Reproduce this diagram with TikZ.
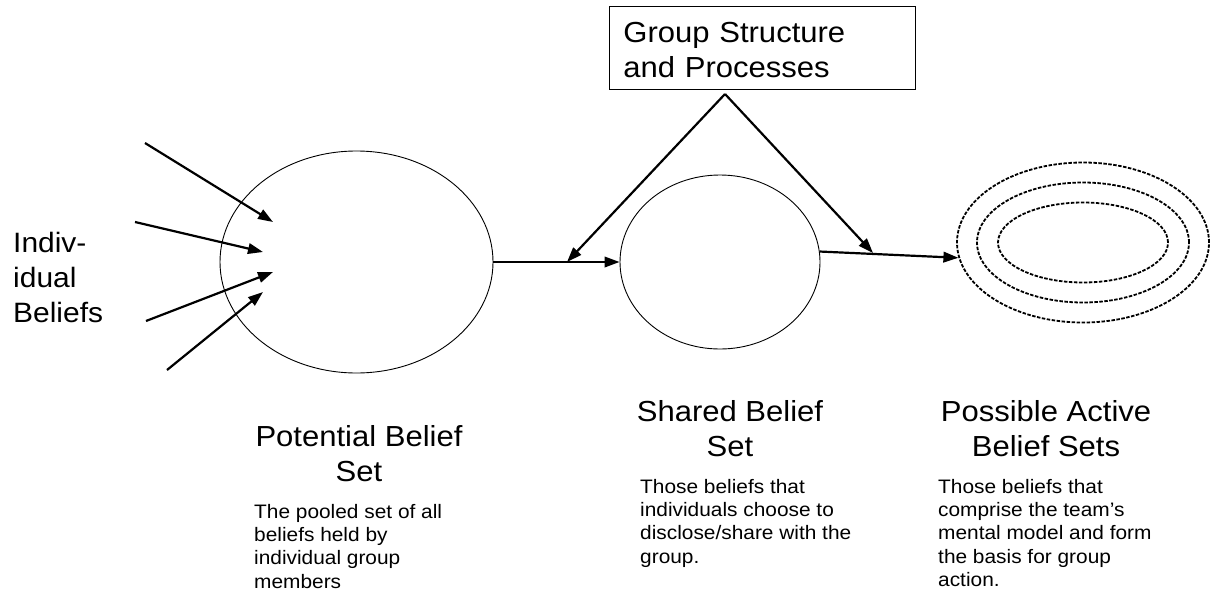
\documentclass[tikz,border=0pt]{standalone}
\usepackage{fontspec}
\setmainfont{Liberation Sans}[FakeStretch=1.07]
\usetikzlibrary{shapes.geometric,arrows.meta}
\begin{document}
\begin{tikzpicture}[x=1pt,y=-1pt,
  arr/.style={line width=2.2pt, -{Triangle[length=15pt,width=10.5pt]}},
  setshape/.style={ellipse, draw, line width=0.9pt, inner sep=0pt},
  active/.style={ellipse, draw, line width=1.8pt, dash pattern=on 3.5pt off 1.5pt, inner sep=0pt},
  head/.style={font=\fontsize{29}{35}\selectfont, align=center, inner sep=0pt, anchor=north},
  desc/.style={font=\fontsize{19.5}{23.3}\selectfont, align=left, inner sep=0pt, anchor=north west},
]
\useasboundingbox (0,0) rectangle (1210,608);

% sets
\node[setshape, minimum width=273pt, minimum height=222pt] (pot) at (356.5,262) {};
\node[setshape, minimum width=200pt, minimum height=174pt] (shared) at (720,262) {};
\node[active, minimum width=252pt, minimum height=160pt] (outer) at (1083,242.5) {};
\node[active, minimum width=212pt, minimum height=120pt] (middle) at (1083,242.5) {};
\node[active, minimum width=170pt, minimum height=80pt] (inner) at (1083,242.5) {};

% group structure box
\node[draw, line width=0.9pt, anchor=north west, inner xsep=14pt, inner ysep=0pt,
      text width=278pt, align=left, font=\fontsize{29}{35}\selectfont] (gsp) at (609,6)
  {\rule{0pt}{36pt}Group Structure\\and Processes\rule[-12pt]{0pt}{12pt}};

% individual beliefs
\node[font=\fontsize{28}{35}\selectfont, align=left, inner sep=0pt, anchor=north west] (ind) at (13,227.5)
  {\strut Indiv-\\idual\\Beliefs};

% connectors
\draw[arr] (pot.east) -- (shared.west);
\draw[arr] (shared.6) -- (outer.187);

\coordinate (apex) at (725,94);
\coordinate (j1) at (567,262);
\coordinate (j2) at (873,253);
\draw[arr] (apex) -- (j1);
\draw[arr] (apex) -- (j2);

\coordinate (s1) at (145,143);
\coordinate (e1) at (273,222);
\coordinate (s2) at (135,222);
\coordinate (e2) at (263,252);
\coordinate (s3) at (146,321);
\coordinate (e3) at (273,272);
\coordinate (s4) at (167,370);
\coordinate (e4) at (263,292);
\draw[arr] (s1) -- (e1);
\draw[arr] (s2) -- (e2);
\draw[arr] (s3) -- (e3);
\draw[arr] (s4) -- (e4);

% labels
\node[head] (potlab) at (359,421.5) {\strut Potential Belief\\Set};
\node[head] (sharedlab) at (730,396.5) {\strut Shared Belief\\Set};
\node[head] (activelab) at (1046,396.5) {\strut Possible Active\\Belief Sets};

\node[desc] (potdesc) at (254,501.7) {\strut The pooled set of all\\beliefs held by\\individual group\\members};
\node[desc] (shareddesc) at (640,476.7) {\strut Those beliefs that\\individuals choose to\\disclose/share with the\\group.};
\node[desc] (activedesc) at (938,476.7) {\strut Those beliefs that\\comprise the team’s\\mental model and form\\the basis for group\\action.};
\end{tikzpicture}
\end{document}
